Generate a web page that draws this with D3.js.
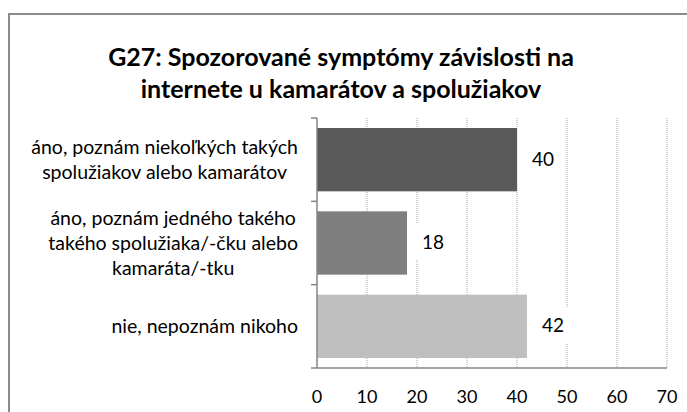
<!DOCTYPE html>
<html>
<head>
<meta charset="utf-8">
<script src="https://cdn.jsdelivr.net/npm/d3@7"></script>
<style>
  body { margin: 0; background: #fff; }
  text { font-family: Lato, "Open Sans", sans-serif; fill: #000; }
</style>
</head>
<body>
<div id="chart"></div>
<script>
// Chart data
const categories = [
    ["áno, poznám niekoľkých takých", "spolužiakov alebo kamarátov"],
    ["áno, poznám jedného takého", "takého spolužiaka/-čku alebo", "kamaráta/-tku"],
    ["nie, nepoznám nikoho"]
];
const values = [40, 18, 42];
const barColors = ["#595959", "#7f7f7f", "#bfbfbf"];
const xTicks = [0, 10, 20, 30, 40, 50, 60, 70];
const titleLines = ["G27: Spozorované symptómy závislosti na", "internete u kamarátov a spolužiakov"];

const width = 687, height = 412;
const margin = { top: 118, right: 20, bottom: 44, left: 317 };

const svg = d3.select("#chart")
    .append("svg")
    .attr("width", width)
    .attr("height", height);

// outer frame (right and bottom run off the picture)
svg.append("rect")
    .attr("x", 9)
    .attr("y", 14)
    .attr("width", 700)
    .attr("height", 420)
    .attr("fill", "none")
    .attr("stroke", "#8c8c8c")
    .attr("stroke-width", 2);

// title
svg.append("text")
    .attr("x", 341)
    .attr("y", 66)
    .attr("text-anchor", "middle")
    .style("font-size", "25px")
    .style("font-weight", 700)
    .selectAll("tspan")
    .data(titleLines)
    .enter()
    .append("tspan")
    .attr("x", 341)
    .attr("dy", (d, i) => i === 0 ? 0 : 32)
    .text(d => d);

const x = d3.scaleLinear()
    .domain([0, 70])
    .range([margin.left, width - margin.right]);

const y = d3.scaleBand()
    .domain(d3.range(values.length))
    .range([margin.top, height - margin.bottom])
    .paddingInner(0.24)
    .paddingOuter(0.12);

const plotBottom = height - margin.bottom;

// gridlines
svg.append("g")
    .selectAll("line")
    .data(xTicks.slice(1))
    .enter()
    .append("line")
    .attr("x1", d => x(d))
    .attr("x2", d => x(d))
    .attr("y1", margin.top)
    .attr("y2", plotBottom)
    .attr("stroke", "#a6a6a6")
    .attr("stroke-width", 1)
    .attr("stroke-dasharray", "1,1");

// bars
svg.selectAll(".bar")
    .data(values)
    .enter()
    .append("rect")
    .attr("class", "bar")
    .attr("x", x(0))
    .attr("y", (d, i) => y(i))
    .attr("width", d => x(d) - x(0))
    .attr("height", y.bandwidth())
    .attr("fill", (d, i) => barColors[i]);

// value labels with white boxes
const labels = svg.selectAll(".val")
    .data(values)
    .enter()
    .append("g")
    .attr("class", "val");

labels.append("text")
    .attr("x", d => x(d) + 15)
    .attr("y", (d, i) => y(i) + y.bandwidth() / 2 + 6)
    .style("font-size", "19px")
    .text(d => d);

labels.each(function() {
    const g = d3.select(this);
    const bb = g.select("text").node().getBBox();
    g.insert("rect", "text")
        .attr("x", bb.x - 8)
        .attr("y", bb.y + bb.height / 2 - 18)
        .attr("width", bb.width + 16)
        .attr("height", 36)
        .attr("fill", "#fff");
});

// axes
const step = y.step();
const boundaries = d3.range(values.length + 1).map(i => margin.top + i * step);

svg.append("line")
    .attr("x1", x(0)).attr("x2", x(0))
    .attr("y1", margin.top).attr("y2", plotBottom)
    .attr("stroke", "#868686").attr("stroke-width", 1.5);

svg.append("line")
    .attr("x1", x(0)).attr("x2", x(70))
    .attr("y1", plotBottom).attr("y2", plotBottom)
    .attr("stroke", "#868686").attr("stroke-width", 1.5);

svg.append("g")
    .selectAll("line")
    .data(boundaries)
    .enter()
    .append("line")
    .attr("x1", x(0) - 6).attr("x2", x(0))
    .attr("y1", d => d).attr("y2", d => d)
    .attr("stroke", "#868686").attr("stroke-width", 1.5);

// x tick labels
svg.append("g")
    .selectAll("text")
    .data(xTicks)
    .enter()
    .append("text")
    .attr("x", d => x(d))
    .attr("y", plotBottom + 35)
    .attr("text-anchor", "middle")
    .style("font-size", "18px")
    .text(d => d);

// category labels: lines centred, block right-aligned
categories.forEach((lines, i) => {
    const t = svg.append("text")
        .style("font-size", "19.5px")
        .attr("text-anchor", "middle");
    const spans = t.selectAll("tspan")
        .data(lines)
        .enter()
        .append("tspan")
        .text(d => d);
    const maxW = d3.max(spans.nodes(), n => n.getComputedTextLength());
    const cx = 298 - maxW / 2;
    const cy = y(i) + y.bandwidth() / 2;
    spans.attr("x", cx)
        .attr("y", (d, j) => cy - (lines.length - 1) * 25 / 2 + j * 25 + 7);
});
</script>
</body>
</html>
